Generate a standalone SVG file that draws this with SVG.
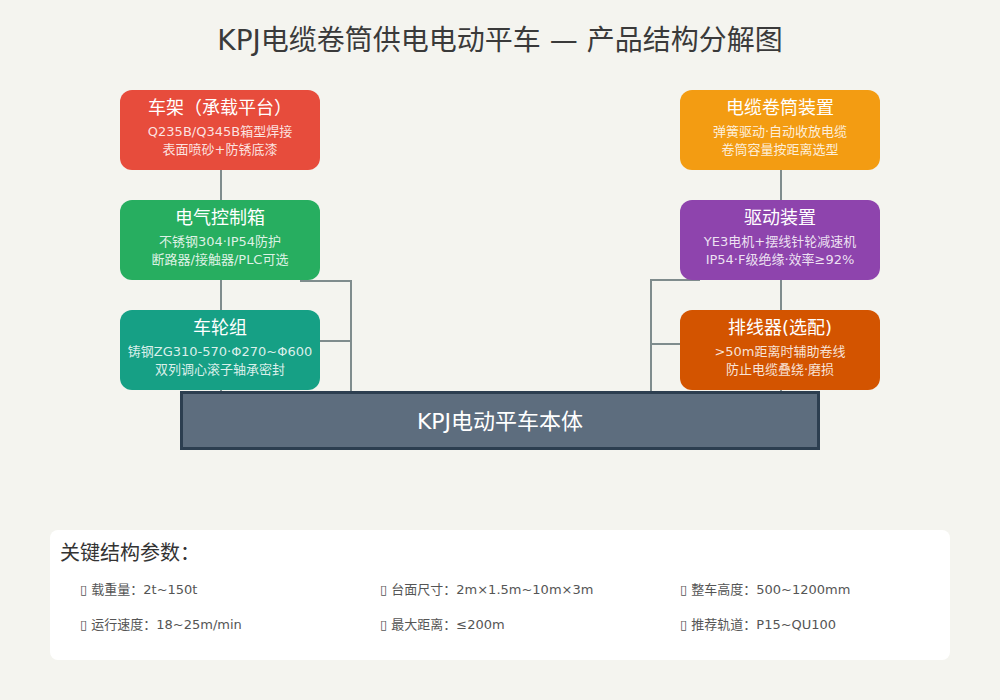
<svg xmlns="http://www.w3.org/2000/svg" width="1000" height="700" viewBox="0 0 1000 700">
<style>
text{font-family:"DejaVu Sans","Noto Sans CJK SC",sans-serif}
.t{font-size:18px;fill:#fff;text-anchor:middle}
.s{font-size:13px;fill:#fff;fill-opacity:0.85;text-anchor:middle}
.c{fill:none;stroke:#7f8c8d;stroke-width:2}
.p{font-size:13px;fill:#555}
</style>
<rect width="1000" height="700" fill="#f4f4ef"/>
<text x="500" y="50" font-size="28" fill="#3a3a3a" text-anchor="middle">KPJ电缆卷筒供电电动平车 — 产品结构分解图</text>
<g id="connectors">
<path class="c" d="M221,170V200"/>
<path class="c" d="M221,280V310"/>
<path class="c" d="M300,281H351V400"/>
<path class="c" d="M310,341H351"/>
<path class="c" d="M221,390V406H351V420"/>
<path class="c" d="M781,170V200"/>
<path class="c" d="M781,280V310"/>
<path class="c" d="M700,280H651V430"/>
<path class="c" d="M651,344H690"/>
<path class="c" d="M781,390V410H651"/>
</g>
<g id="frame">
<rect x="120" y="90" width="200" height="80" rx="12" fill="#e74c3c"/>
<text class="t" x="220" y="114">车架（承载平台）</text>
<text class="s" x="220" y="136">Q235B/Q345B箱型焊接</text>
<text class="s" x="220" y="154">表面喷砂+防锈底漆</text>
</g>
<g id="control">
<rect x="120" y="200" width="200" height="80" rx="12" fill="#27ae60"/>
<text class="t" x="220" y="224">电气控制箱</text>
<text class="s" x="220" y="246">不锈钢304·IP54防护</text>
<text class="s" x="220" y="264">断路器/接触器/PLC可选</text>
</g>
<g id="wheels">
<rect x="120" y="310" width="200" height="80" rx="12" fill="#16a085"/>
<text class="t" x="220" y="334">车轮组</text>
<text class="s" x="220" y="356">铸钢ZG310-570·Φ270~Φ600</text>
<text class="s" x="220" y="374">双列调心滚子轴承密封</text>
</g>
<g id="reel">
<rect x="680" y="90" width="200" height="80" rx="12" fill="#f39c12"/>
<text class="t" x="780" y="114">电缆卷筒装置</text>
<text class="s" x="780" y="136">弹簧驱动·自动收放电缆</text>
<text class="s" x="780" y="154">卷筒容量按距离选型</text>
</g>
<g id="drive">
<rect x="680" y="200" width="200" height="80" rx="12" fill="#8e44ad"/>
<text class="t" x="780" y="224">驱动装置</text>
<text class="s" x="780" y="246">YE3电机+摆线针轮减速机</text>
<text class="s" x="780" y="264">IP54·F级绝缘·效率≥92%</text>
</g>
<g id="guide">
<rect x="680" y="310" width="200" height="80" rx="12" fill="#d35400"/>
<text class="t" x="780" y="334">排线器(选配)</text>
<text class="s" x="780" y="356">&gt;50m距离时辅助卷线</text>
<text class="s" x="780" y="374">防止电缆叠绕·磨损</text>
</g>
<g id="body">
<rect x="181.5" y="392.5" width="637" height="56" fill="#5d6d7e" stroke="#2c3e50" stroke-width="3"/>
<text x="500" y="429" font-size="22" fill="#fff" text-anchor="middle">KPJ电动平车本体</text>
</g>
<g id="params">
<rect x="50" y="530" width="900" height="130" rx="8" fill="#fff"/>
<text x="60" y="560" font-size="20" fill="#333">关键结构参数：</text>
<text class="p" x="80" y="594">▯ 载重量：2t~150t</text>
<text class="p" x="380" y="594">▯ 台面尺寸：2m×1.5m~10m×3m</text>
<text class="p" x="680" y="594">▯ 整车高度：500~1200mm</text>
<text class="p" x="80" y="629">▯ 运行速度：18~25m/min</text>
<text class="p" x="380" y="629">▯ 最大距离：≤200m</text>
<text class="p" x="680" y="629">▯ 推荐轨道：P15~QU100</text>
</g>
</svg>
